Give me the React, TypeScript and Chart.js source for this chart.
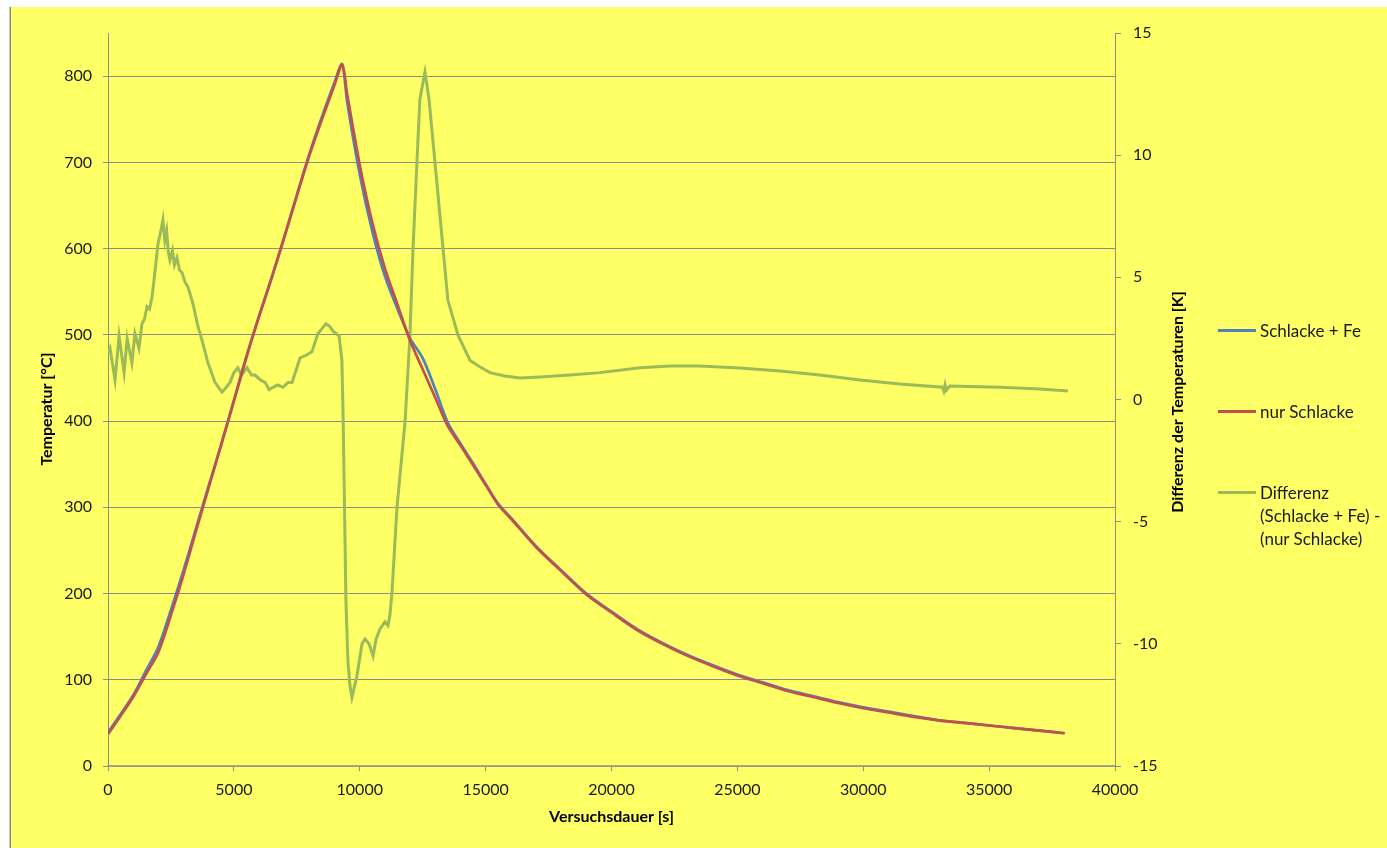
import React, { useEffect, useRef } from "react";
import { Chart, registerables } from "chart.js";

Chart.register(...registerables);

// ---- data ----
const timeS = [0, 500, 1000, 1500, 2000, 2500, 3000, 3500, 4000, 4500, 5000, 5500, 6000, 6500, 7000, 7500, 8000, 8500, 9000, 9300, 9500, 10000, 10500, 11000, 11500, 12000, 12500, 13000, 13500, 14000, 14500, 15000, 15500, 16000, 17000, 18000, 19000, 20000, 21000, 22000, 23000, 24000, 25000, 26000, 27000, 28000, 29000, 30000, 31000, 32000, 33000, 34000, 35000, 36000, 37000, 38000];

const schlackeFe = [39, 60, 82, 110, 138, 181, 227, 276, 325, 373, 424, 475, 522, 566, 613, 662, 710, 753, 793, 814, 770, 686, 620, 568, 530, 496, 473, 437, 398, 374, 351, 327, 304, 288, 255, 227, 200, 179, 159, 143, 129, 117, 106, 97, 88, 81, 74, 68, 63, 58, 53, 50, 47, 44, 41, 38];

const nurSchlacke = [37, 58, 80, 106, 132, 175, 222, 273, 323, 373, 423, 474, 521, 566, 613, 661, 708, 750, 790, 813, 779, 697, 630, 577, 535, 493, 460, 427, 394, 372, 349, 326, 303, 287, 254, 226, 199, 178, 158, 142, 128, 116, 105, 96, 87, 80, 73, 67, 62, 57, 53, 50, 47, 44, 41, 38];

const diffTime = [0, 80, 280, 440, 640, 760, 950, 1070, 1230, 1350, 1450, 1550, 1650, 1750, 1830, 1990, 2100, 2180, 2260, 2330, 2400, 2460, 2560, 2640, 2740, 2840, 2940, 3060, 3180, 3380, 3570, 3770, 3970, 4250, 4530, 4700, 4850, 5000, 5160, 5300, 5520, 5700, 5840, 6050, 6240, 6400, 6550, 6750, 6950, 7150, 7310, 7630, 7850, 8100, 8340, 8500, 8660, 8800, 8940, 9180, 9290, 9340, 9450, 9530, 9610, 9690, 9890, 10090, 10210, 10370, 10530, 10650, 10800, 11000, 11120, 11200, 11280, 11480, 11800, 11995, 12115, 12270, 12390, 12590, 12750, 12990, 13310, 13500, 13900, 14380, 14780, 15170, 15770, 16360, 17160, 18350, 19540, 21130, 22320, 23510, 25100, 26690, 28280, 29870, 31460, 33150, 33200, 33250, 33300, 33440, 35430, 37020, 38130];

const diffK = [1.9, 2.1, 0.8, 2.6, 1.1, 2.5, 1.5, 2.7, 2.1, 3.1, 3.3, 3.8, 3.7, 4.2, 4.9, 6.4, 6.9, 7.35, 6.5, 6.9, 6.0, 5.7, 6.1, 5.5, 5.8, 5.3, 5.2, 4.8, 4.6, 3.9, 3.0, 2.3, 1.5, 0.7, 0.3, 0.5, 0.7, 1.1, 1.3, 1.0, 1.3, 1.0, 1.0, 0.8, 0.7, 0.4, 0.5, 0.6, 0.5, 0.7, 0.7, 1.7, 1.8, 1.95, 2.7, 2.9, 3.1, 3.0, 2.8, 2.6, 1.6, -0.7, -8.2, -10.7, -11.7, -12.2, -11.3, -10.0, -9.8, -10.0, -10.5, -9.8, -9.4, -9.1, -9.25, -8.8, -7.9, -4.4, -0.9, 2.64, 6.16, 9.68, 12.3, 13.4, 12.3, 9.68, 6.16, 4.07, 2.64, 1.6, 1.33, 1.1, 0.96, 0.88, 0.92, 1.0, 1.1, 1.3, 1.37, 1.37, 1.29, 1.17, 1.0, 0.8, 0.63, 0.5, 0.35, 0.6, 0.38, 0.55, 0.5, 0.43, 0.35];

const seriesLabels = ["Schlacke + Fe", "nur Schlacke", "Differenz (Schlacke + Fe) - (nur Schlacke)"];
const legendLines = [["Schlacke + Fe"], ["nur Schlacke"], ["Differenz", "(Schlacke + Fe) -", "(nur Schlacke)"]];
const xTitle = "Versuchsdauer [s]";
const yTitle = "Temperatur [°C]";
const y2Title = "Differenz der Temperaturen [K]";

// ---- styles ----
const W = 1387;
const H = 848;
const BLUE = "#4F81BD";
const RED = "#C0504D";
const GREEN = "#9BBB59";
const YELLOW = "#FFFF66";
const GRID = "#8C8C8C";
const FONT = "Lato";
const TICK_FONT = { family: FONT, size: 16 };
const TEXT = "#1a1a1a";

const bgPlugin = {
  id: "bg",
  beforeDraw(chart: any) {
    const ctx = chart.ctx;
    ctx.save();
    ctx.fillStyle = "#ffffff";
    ctx.fillRect(0, 0, W, H);
    ctx.fillStyle = YELLOW;
    ctx.fillRect(11, 7, W - 11, H - 7);
    ctx.strokeStyle = "#8a8a8a";
    ctx.lineWidth = 1.5;
    ctx.beginPath();
    ctx.moveTo(10.25, 7);
    ctx.lineTo(10.25, H);
    ctx.stroke();
    ctx.restore();
  },
};

const titlePlugin = {
  id: "titles",
  afterDraw(chart: any) {
    const ctx = chart.ctx;
    const a = chart.chartArea;
    ctx.save();
    ctx.font = `bold 16px ${FONT}`;
    ctx.fillStyle = "#000";
    ctx.textAlign = "center";
    ctx.textBaseline = "middle";
    ctx.fillText(xTitle, (a.left + a.right) / 2, 817);
    ctx.save();
    ctx.translate(47, 409);
    ctx.rotate(-Math.PI / 2);
    ctx.fillText(yTitle, 0, 0);
    ctx.restore();
    ctx.save();
    ctx.translate(1178, 402);
    ctx.rotate(-Math.PI / 2);
    ctx.fillText(y2Title, 0, 0);
    ctx.restore();
    ctx.restore();
  },
};

export default function App() {
  const ref = useRef<HTMLCanvasElement>(null);

  useEffect(() => {
    const canvas = ref.current;
    if (!canvas) return;
    const chart = new Chart(canvas, {
      type: "line",
      data: {
        datasets: [
          {
            label: seriesLabels[1],
            data: timeS.map((t, i) => ({ x: t, y: nurSchlacke[i] })),
            borderColor: RED,
            backgroundColor: RED,
            borderWidth: 2.7,
            pointRadius: 0,
            tension: 0.3,
            yAxisID: "y",
            order: 0,
          },
          {
            label: seriesLabels[0],
            data: timeS.map((t, i) => ({ x: t, y: schlackeFe[i] })),
            borderColor: BLUE,
            backgroundColor: BLUE,
            borderWidth: 2.7,
            pointRadius: 0,
            tension: 0.3,
            yAxisID: "y",
            order: 1,
          },
          {
            label: seriesLabels[2],
            data: diffTime.map((t, i) => ({ x: t, y: diffK[i] })),
            borderColor: GREEN,
            backgroundColor: GREEN,
            borderWidth: 3,
            pointRadius: 0,
            tension: 0,
            yAxisID: "y2",
            order: 2,
          },
        ],
      },
      options: {
        responsive: false,
        animation: false,
        devicePixelRatio: 1,
        layout: { padding: { top: 33, left: 0, right: 0, bottom: 0 } },
        plugins: { legend: { display: false }, tooltip: { enabled: false } },
        scales: {
          x: {
            type: "linear",
            position: "bottom",
            min: 0,
            max: 40000,
            ticks: { stepSize: 5000, font: TICK_FONT, color: TEXT, padding: 9, maxRotation: 0, callback: (v: any) => String(v) },
            grid: { drawOnChartArea: false, tickLength: 5, color: GRID },
            border: { color: "#a8a888", width: 1.5 },
            afterFit: (s: any) => { s.height = H - 766; },
          },
          y: {
            type: "linear",
            position: "left",
            min: 0,
            max: 850,
            ticks: { stepSize: 100, includeBounds: false, font: TICK_FONT, color: TEXT, padding: 11 },
            grid: { color: GRID, tickLength: 5, lineWidth: 1 },
            border: { color: GRID },
            afterFit: (s: any) => { s.width = 108; },
          },
          y2: {
            type: "linear",
            position: "right",
            min: -15,
            max: 15,
            ticks: { stepSize: 5, font: TICK_FONT, color: TEXT, padding: 12 },
            grid: { drawOnChartArea: false, tickLength: 6, color: GRID },
            border: { color: GRID },
            afterFit: (s: any) => { s.width = W - 1115; },
          },
        },
      },
      plugins: [bgPlugin, titlePlugin],
    } as any);
    return () => chart.destroy();
  }, []);

  const colors = [BLUE, RED, GREEN];
  const legendY = [330, 411, 492];

  return (
    <div style={{ position: "fixed", left: 0, top: 0, width: W, height: H, overflow: "hidden" }}>
      <canvas ref={ref} width={W} height={H} style={{ display: "block", width: W, height: H }} />
      {legendLines.map((lines, i) => (
        <React.Fragment key={i}>
          <div style={{ position: "absolute", left: 1218, top: legendY[i] - 1.5, width: 38, height: 3, background: colors[i] }} />
          <div style={{ position: "absolute", left: 1260, top: legendY[i] - 11.5, fontFamily: FONT, fontSize: 17, lineHeight: "23px", color: TEXT, whiteSpace: "nowrap" }}>
            {lines.map((l, j) => (<div key={j}>{l}</div>))}
          </div>
        </React.Fragment>
      ))}
    </div>
  );
}
